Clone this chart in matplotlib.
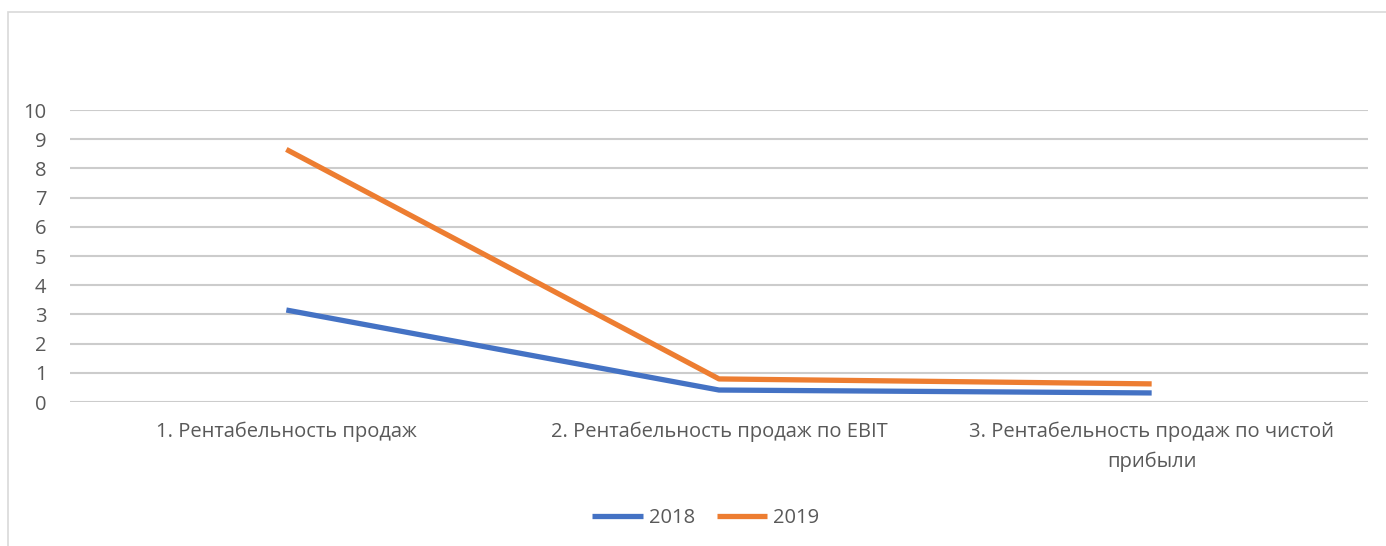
import matplotlib.pyplot as plt
from matplotlib.patches import Rectangle

categories = ["1. Рентабельность продаж",
              "2. Рентабельность продаж по EBIT",
              "3. Рентабельность продаж по чистой\nприбыли"]
values_2018 = [3.15, 0.41, 0.31]
values_2019 = [8.65, 0.79, 0.62]

plt.rcParams['font.family'] = ['Open Sans', 'DejaVu Sans']

fig = plt.figure(figsize=(13.86, 5.46), dpi=100)
ax = fig.add_axes([70 / 1386, 144 / 546, 1298 / 1386, 292 / 546])

# outer chart border
fig.patches.append(Rectangle((8 / 1386, -0.1), 1.2, 1 - 12 / 546 + 0.1,
                             transform=fig.transFigure, fill=False,
                             edgecolor='#d9d9d9', linewidth=1.2))

x = range(len(categories))
ax.plot(x, values_2018, color='#4472C4', linewidth=3.8, label='2018',
        solid_capstyle='butt')
ax.plot(x, values_2019, color='#ED7D31', linewidth=3.8, label='2019',
        solid_capstyle='butt')

ax.set_xlim(-0.5, 2.5)
ax.set_ylim(0, 10)
ax.set_yticks(range(0, 11))
ax.set_xticks(list(x))
ax.set_xticklabels(categories, linespacing=1.65)
ax.grid(axis='y', color='#cccccc', linewidth=1.5)
ax.set_axisbelow(True)
for s in ax.spines.values():
    s.set_visible(False)
ax.tick_params(axis='both', length=0, colors='#595959', labelsize=14.5)
ax.tick_params(axis='x', pad=14)
ax.tick_params(axis='y', pad=17)

ax.legend(loc='center', bbox_to_anchor=(706 / 1386, 28 / 546),
          bbox_transform=fig.transFigure, ncol=2, frameon=False,
          fontsize=14.5, labelcolor='#595959', handlelength=2.5,
          columnspacing=1.1, handletextpad=0.3)

plt.savefig('out.png')
